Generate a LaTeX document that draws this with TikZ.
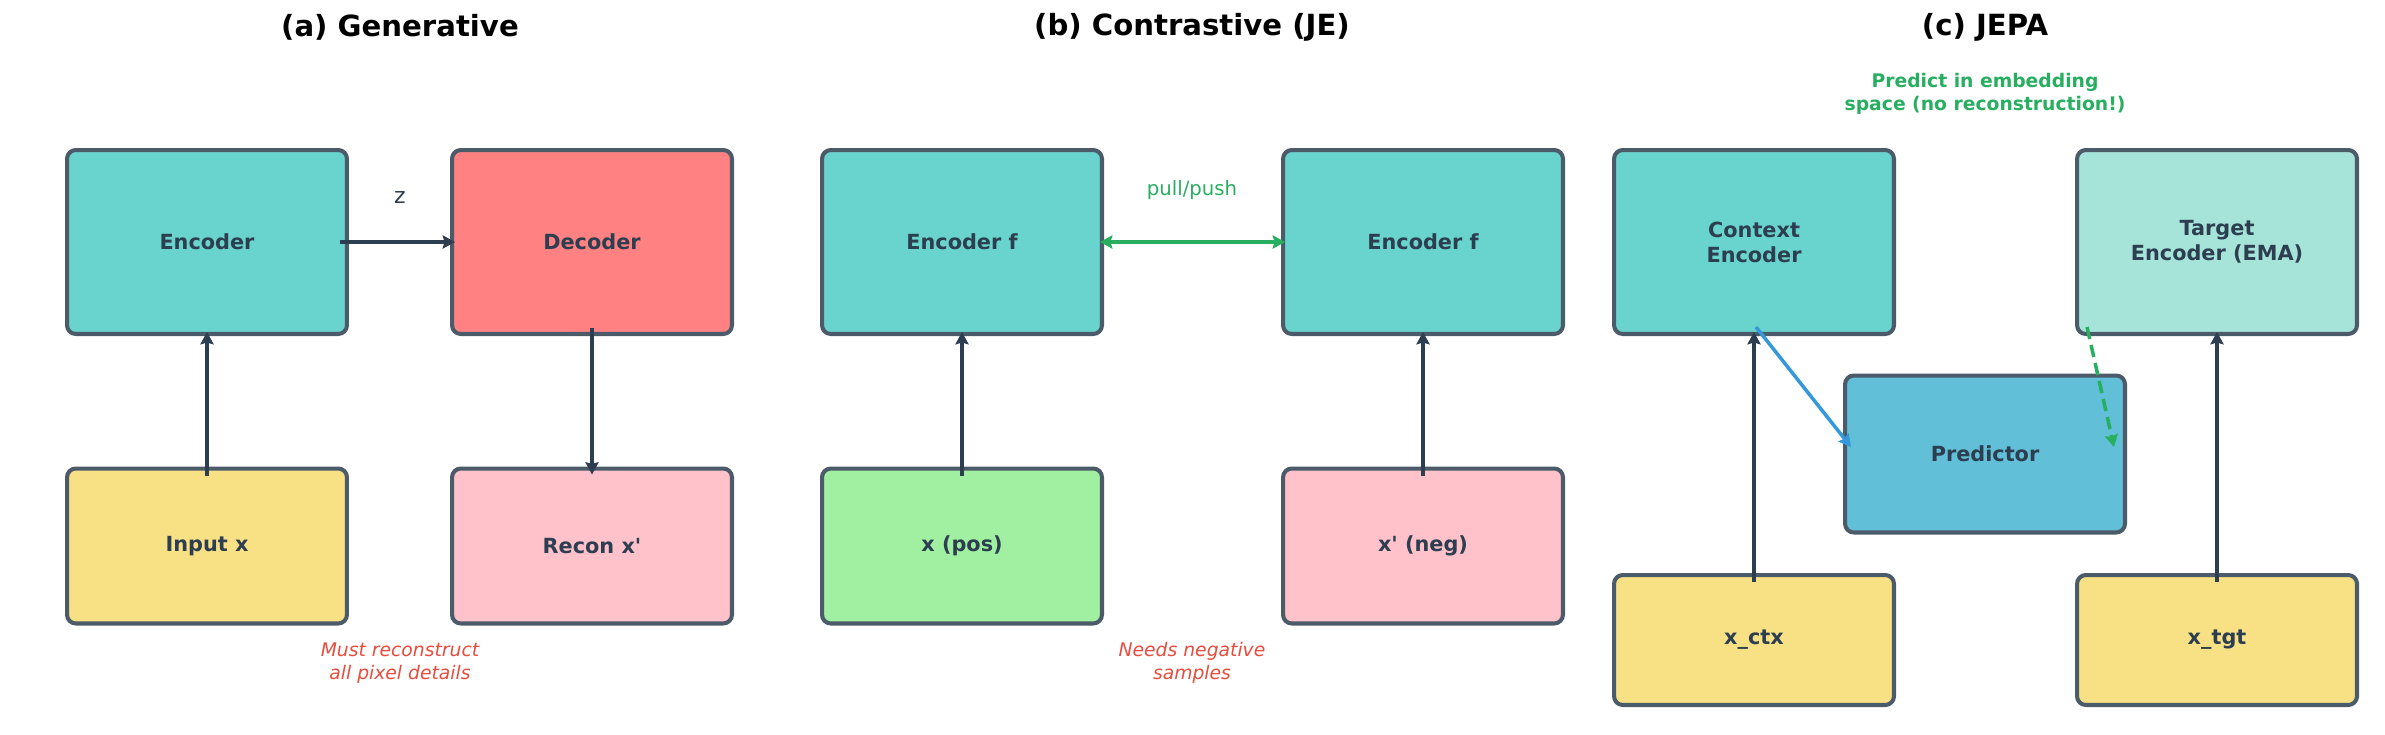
\documentclass[tikz,border=0pt]{standalone}
\usepackage{fontspec}
\setmainfont{DejaVu Sans}[Ligatures=TeXOff]
\usepackage{xcolor}
\usepackage{tikz}
\usetikzlibrary{arrows.meta, positioning, calc}

\definecolor{tealfill}{RGB}{105,212,205}
\definecolor{redfill}{RGB}{255,129,129}
\definecolor{yellowfill}{RGB}{248,225,133}
\definecolor{pinkfill}{RGB}{255,193,202}
\definecolor{greenfill}{RGB}{161,240,161}
\definecolor{paletealfill}{RGB}{166,228,218}
\definecolor{bluefill}{RGB}{97,192,215}
\definecolor{edgegray}{RGB}{76,91,106}
\definecolor{darktext}{RGB}{44,62,80}
\definecolor{arrowblue}{RGB}{52,152,219}
\definecolor{arrowgreen}{RGB}{39,174,96}
\definecolor{notered}{RGB}{231,76,60}

\tikzset{
    box/.style={rectangle, draw=edgegray, line width=2.3pt, rounded corners=5pt,
        minimum width=5.6cm, text=darktext, align=center,
        font=\fontsize{11.85}{14.2}\selectfont\bfseries},
    toprow/.style={minimum height=3.68cm},
    midrow/.style={minimum height=3.1cm},
    lowrow/.style={minimum height=2.6cm},
    paneltitle/.style={font=\fontsize{16.6}{20}\selectfont\bfseries, text=black},
    note/.style={font=\fontsize{10.67}{12.8}\selectfont\itshape, text=notered, align=center},
    arr/.style={-{Stealth[length=7pt,width=7.5pt,inset=1pt]}, line width=2pt, draw=darktext},
}

\begin{document}
\begin{tikzpicture}[x=0.02cm, y=-0.02cm]
    \useasboundingbox (0,0) rectangle (2385,734);

    % (a) Generative
    \node[paneltitle] (titA) at (400,27) {(a) Generative};
    \node[box,toprow,fill=tealfill] (encA) at (207,242) {Encoder};
    \node[box,toprow,fill=redfill] (decA) at (592,242) {Decoder};
    \node[box,midrow,fill=yellowfill] (inpA) at (207,546) {Input x};
    \node[box,midrow,fill=pinkfill] (recA) at (592,546) {Recon x'};
    \node[font=\fontsize{12.5}{15}\selectfont, text=darktext] (zA) at (400,197) {z};
    \node[note] (noteA) at (400,663) {Must reconstruct\\all pixel details};
    \draw[arr] ($(inpA.north)+(0,9)$) -- ($(encA.south)+(0,-4)$);
    \draw[arr] ($(encA.east)+(-9,0)$) -- ($(decA.west)+(5,0)$);
    \draw[arr] ($(decA.south)+(0,-8)$) -- ($(recA.north)+(0,8)$);

    % (b) Contrastive (JE)
    \node[paneltitle] (titB) at (1192,27) {(b) Contrastive (JE)};
    \node[box,toprow,fill=tealfill] (encB1) at (962,242) {Encoder f};
    \node[box,toprow,fill=tealfill] (encB2) at (1423,242) {Encoder f};
    \node[box,midrow,fill=greenfill] (posB) at (962,546) {x (pos)};
    \node[box,midrow,fill=pinkfill] (negB) at (1423,546) {x' (neg)};
    \node[font=\fontsize{11.2}{13.4}\selectfont, text=arrowgreen] (pullB) at (1192,190) {pull/push};
    \node[note] (noteB) at (1192,663) {Needs negative\\samples};
    \draw[arr] ($(posB.north)+(0,9)$) -- ($(encB1.south)+(0,-4)$);
    \draw[arr] ($(negB.north)+(0,9)$) -- ($(encB2.south)+(0,-4)$);
    \draw[{Stealth[length=7pt,width=7.5pt,inset=1pt]}-{Stealth[length=7pt,width=7.5pt,inset=1pt]},
        line width=2.4pt, draw=arrowgreen] ($(encB1.east)+(-4,0)$) -- ($(encB2.west)+(4,0)$);

    % (c) JEPA
    \node[paneltitle] (titC) at (1985,27) {(c) JEPA};
    \node[font=\fontsize{10.67}{12.8}\selectfont\bfseries, text=arrowgreen, align=center] (predictC)
        at (1985,94) {Predict in embedding\\space (no reconstruction!)};
    \node[box,toprow,fill=tealfill] (ctxC) at (1754,242) {Context\\Encoder};
    \node[box,toprow,fill=paletealfill] (tgtC) at (2217,242) {Target\\Encoder (EMA)};
    \node[box,minimum height=3.14cm,fill=bluefill] (predC) at (1985,454) {Predictor};
    \node[box,lowrow,fill=yellowfill] (xctxC) at (1754,640) {x\_ctx};
    \node[box,lowrow,fill=yellowfill] (xtgtC) at (2217,640) {x\_tgt};
    \draw[arr] ($(xctxC.north)+(0,9)$) -- ($(ctxC.south)+(0,-4)$);
    \draw[arr] ($(xtgtC.north)+(0,9)$) -- ($(tgtC.south)+(0,-4)$);
    \draw[arr, draw=arrowblue] ($(ctxC.south)+(2,-9)$) -- ($(predC.west)+(8,-7)$);
    \draw[arr, draw=arrowgreen, dash pattern=on 7pt off 3.5pt] ($(tgtC.south west)+(12,-9)$) -- ($(predC.east)+(-13,-7)$);
\end{tikzpicture}
\end{document}
